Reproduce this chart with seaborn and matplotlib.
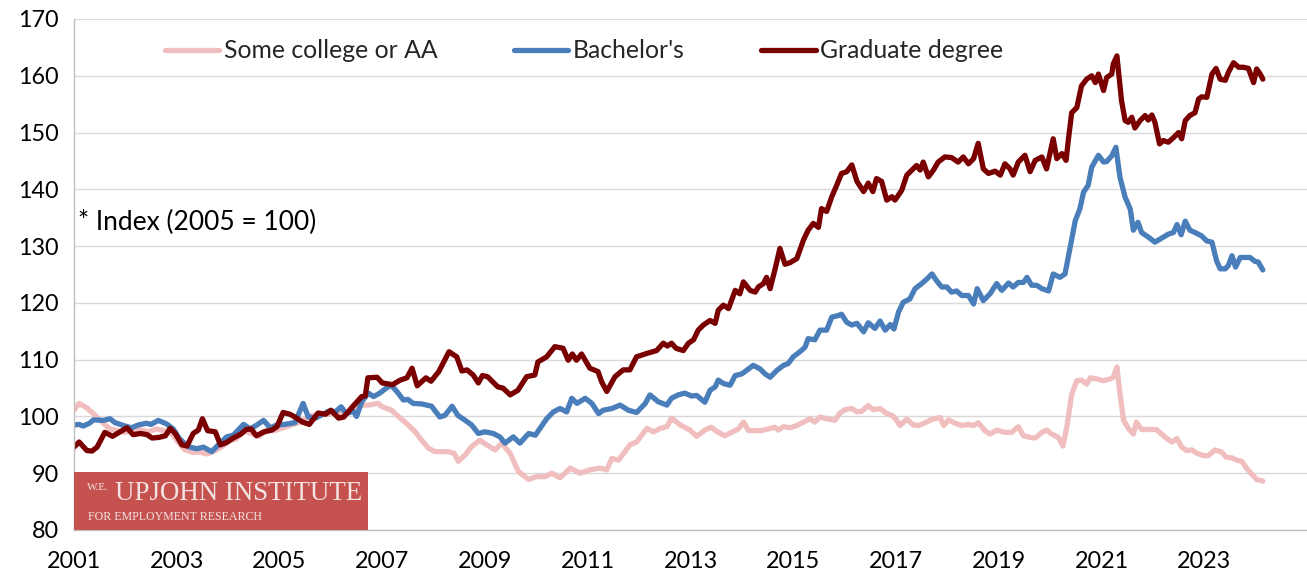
import numpy as np
import pandas as pd
import matplotlib
matplotlib.use("Agg")
import matplotlib.pyplot as plt
import seaborn as sns
from matplotlib.patches import Rectangle

# ---------------- data ----------------
series_names = ["Some college or AA", "Bachelor's", "Graduate degree"]

some_t = [2001.00, 2001.10, 2001.25, 2001.40, 2001.55, 2001.70, 2001.85, 2002.00, 2002.15, 2002.30,
          2002.45, 2002.60, 2002.75, 2002.90, 2003.00, 2003.15, 2003.30, 2003.45, 2003.60, 2003.75,
          2003.90, 2004.00, 2004.15, 2004.30, 2004.45, 2004.60, 2004.75, 2004.90, 2005.00, 2005.20,
          2005.40, 2005.60, 2005.80, 2006.00, 2006.20, 2006.40, 2006.50, 2006.73, 2006.92, 2007.00,
          2007.18, 2007.35, 2007.47, 2007.64, 2007.77, 2007.90, 2008.03, 2008.29, 2008.40, 2008.48,
          2008.61, 2008.74, 2008.90, 2009.03, 2009.20, 2009.32, 2009.49, 2009.65, 2009.85, 2010.00,
          2010.17, 2010.30, 2010.46, 2010.66, 2010.85, 2011.04, 2011.24, 2011.37, 2011.47, 2011.60,
          2011.82, 2011.95, 2012.15, 2012.28, 2012.41, 2012.54, 2012.63, 2012.80, 2012.99, 2013.12,
          2013.28, 2013.40, 2013.54, 2013.67, 2013.80, 2013.93, 2014.03, 2014.13, 2014.26, 2014.38,
          2014.52, 2014.64, 2014.71, 2014.81, 2014.94, 2015.07, 2015.20, 2015.33, 2015.42, 2015.52,
          2015.65, 2015.81, 2015.91, 2016.01, 2016.14, 2016.24, 2016.33, 2016.46, 2016.56, 2016.69,
          2016.82, 2016.92, 2017.00, 2017.08, 2017.21, 2017.34, 2017.44, 2017.57, 2017.70, 2017.86,
          2017.93, 2018.02, 2018.15, 2018.28, 2018.41, 2018.51, 2018.60, 2018.73, 2018.83, 2018.96,
          2019.12, 2019.25, 2019.38, 2019.48, 2019.61, 2019.71, 2019.84, 2019.93, 2020.03, 2020.16,
          2020.25, 2020.33, 2020.42, 2020.52, 2020.61, 2020.71, 2020.78, 2020.91, 2021.04, 2021.17,
          2021.23, 2021.30, 2021.36, 2021.43, 2021.53, 2021.62, 2021.68, 2021.78, 2021.91, 2022.07,
          2022.17, 2022.27, 2022.37, 2022.47, 2022.56, 2022.66, 2022.76, 2022.86, 2022.99, 2023.08,
          2023.21, 2023.34, 2023.43, 2023.54, 2023.63, 2023.73, 2023.83, 2023.92, 2024.02, 2024.14]
some_v = [101.1, 102.3, 101.5, 100.3, 99.0, 97.8, 97.5, 97.2, 97.8, 97.6,
          97.3, 97.8, 97.5, 97.0, 95.8, 94.2, 93.7, 93.7, 93.4, 94.0,
          94.8, 95.7, 96.0, 97.5, 97.0, 96.5, 97.5, 97.5, 97.8, 98.4,
          99.0, 100.1, 100.3, 100.5, 100.6, 100.9, 102.0, 102.0, 102.3, 101.7,
          101.1, 99.7, 98.8, 97.3, 95.8, 94.4, 93.8, 93.8, 93.5, 92.1,
          93.2, 94.7, 95.8, 95.0, 94.1, 95.3, 93.5, 90.3, 88.9, 89.4,
          89.4, 90.0, 89.2, 90.9, 90.0, 90.6, 90.9, 90.6, 92.6, 92.3,
          95.0, 95.5, 97.9, 97.3, 97.9, 98.2, 99.7, 98.5, 97.6, 96.5,
          97.6, 98.1, 97.2, 96.6, 97.2, 97.8, 99.0, 97.5, 97.5, 97.5,
          97.8, 98.1, 97.6, 98.2, 98.0, 98.4, 99.0, 99.6, 99.0, 99.9,
          99.6, 99.3, 100.6, 101.2, 101.4, 100.8, 100.9, 101.9, 101.2, 101.4,
          100.5, 100.2, 99.5, 98.4, 99.5, 98.5, 98.4, 98.9, 99.5, 99.8,
          98.4, 99.4, 98.8, 98.4, 98.6, 98.4, 98.9, 97.5, 96.9, 97.6,
          97.2, 97.2, 98.2, 96.6, 96.3, 96.2, 97.2, 97.6, 96.9, 96.3,
          94.8, 98.4, 103.9, 106.3, 106.4, 105.7, 106.8, 106.6, 106.3, 106.6,
          106.9, 108.7, 104.0, 99.3, 97.8, 96.9, 99.0, 97.7, 97.7, 97.7,
          96.9, 96.1, 95.5, 96.1, 94.6, 94.0, 94.1, 93.5, 93.1, 93.1,
          94.1, 93.7, 92.8, 92.7, 92.3, 92.1, 90.8, 89.9, 88.9, 88.6]

bach_t = [2001.00, 2001.10, 2001.18, 2001.30, 2001.38, 2001.57, 2001.70, 2001.80, 2002.00, 2002.12,
          2002.25, 2002.41, 2002.50, 2002.64, 2002.80, 2002.93, 2003.05, 2003.22, 2003.39, 2003.52,
          2003.68, 2003.81, 2003.97, 2004.10, 2004.30, 2004.43, 2004.56, 2004.69, 2004.82, 2004.95,
          2005.10, 2005.30, 2005.46, 2005.56, 2005.70, 2005.95, 2006.10, 2006.20, 2006.30, 2006.44,
          2006.50, 2006.60, 2006.73, 2006.83, 2006.95, 2007.08, 2007.18, 2007.31, 2007.41, 2007.50,
          2007.60, 2007.77, 2007.96, 2008.12, 2008.22, 2008.36, 2008.47, 2008.60, 2008.74, 2008.87,
          2009.00, 2009.16, 2009.29, 2009.39, 2009.55, 2009.68, 2009.85, 2009.98, 2010.07, 2010.20,
          2010.33, 2010.46, 2010.59, 2010.69, 2010.79, 2010.95, 2011.08, 2011.21, 2011.30, 2011.47,
          2011.63, 2011.79, 2011.95, 2012.12, 2012.21, 2012.37, 2012.54, 2012.63, 2012.76, 2012.89,
          2013.02, 2013.12, 2013.28, 2013.38, 2013.48, 2013.54, 2013.64, 2013.77, 2013.87, 2014.00,
          2014.09, 2014.22, 2014.35, 2014.45, 2014.55, 2014.68, 2014.81, 2014.90, 2015.00, 2015.13,
          2015.23, 2015.29, 2015.42, 2015.52, 2015.65, 2015.75, 2015.85, 2015.94, 2016.04, 2016.14,
          2016.24, 2016.37, 2016.46, 2016.59, 2016.69, 2016.79, 2016.89, 2016.96, 2017.05, 2017.14,
          2017.27, 2017.37, 2017.50, 2017.60, 2017.70, 2017.79, 2017.89, 2017.99, 2018.08, 2018.18,
          2018.28, 2018.41, 2018.51, 2018.58, 2018.70, 2018.83, 2018.96, 2019.06, 2019.19, 2019.28,
          2019.38, 2019.48, 2019.55, 2019.64, 2019.74, 2019.84, 2019.97, 2020.06, 2020.19, 2020.29,
          2020.39, 2020.49, 2020.58, 2020.65, 2020.74, 2020.81, 2020.94, 2021.04, 2021.10, 2021.20,
          2021.28, 2021.36, 2021.46, 2021.56, 2021.62, 2021.71, 2021.78, 2021.91, 2022.04, 2022.17,
          2022.30, 2022.40, 2022.47, 2022.55, 2022.63, 2022.72, 2022.82, 2022.95, 2023.05, 2023.15,
          2023.24, 2023.31, 2023.41, 2023.47, 2023.54, 2023.61, 2023.70, 2023.79, 2023.89, 2023.99,
          2024.05, 2024.14]
bach_v = [98.5, 98.6, 98.3, 98.8, 99.4, 99.3, 99.6, 98.9, 98.3, 98.0,
          98.5, 98.8, 98.6, 99.3, 98.7, 97.8, 96.1, 94.7, 94.3, 94.6,
          93.8, 95.0, 96.4, 96.7, 98.6, 97.8, 98.5, 99.3, 98.0, 98.5,
          98.6, 98.9, 102.3, 99.9, 99.7, 100.9, 100.9, 101.7, 100.5, 100.9,
          100.0, 102.6, 104.1, 103.5, 104.1, 105.0, 105.5, 104.1, 102.9, 103.0,
          102.3, 102.2, 101.8, 99.9, 100.2, 101.8, 100.2, 99.4, 98.5, 97.0,
          97.3, 97.0, 96.4, 95.3, 96.4, 95.3, 97.0, 96.7, 97.9, 99.6,
          100.8, 101.4, 100.8, 103.2, 102.3, 103.2, 102.3, 100.5, 101.1, 101.4,
          102.0, 101.1, 100.7, 102.3, 103.8, 102.6, 102.0, 103.2, 103.8, 104.1,
          103.6, 103.7, 102.5, 104.6, 105.2, 106.4, 105.8, 105.5, 107.2, 107.5,
          108.1, 109.0, 108.4, 107.5, 106.9, 108.1, 109.0, 109.3, 110.5, 111.4,
          112.2, 113.7, 113.5, 115.2, 115.2, 117.5, 117.7, 118.0, 116.6, 116.1,
          116.4, 114.9, 116.5, 115.5, 116.8, 115.2, 116.2, 115.4, 118.4, 120.1,
          120.7, 122.5, 123.4, 124.2, 125.1, 123.9, 122.8, 122.8, 121.9, 122.1,
          121.3, 121.3, 119.8, 122.5, 120.4, 121.6, 123.4, 122.2, 123.5, 122.8,
          123.6, 123.6, 124.5, 123.1, 123.1, 122.5, 122.1, 125.1, 124.5, 125.1,
          129.8, 134.5, 136.6, 139.5, 140.7, 143.9, 146.0, 144.8, 144.9, 145.9,
          147.4, 142.1, 138.6, 136.5, 132.8, 134.2, 132.4, 131.6, 130.7, 131.4,
          132.1, 132.4, 133.8, 132.0, 134.4, 132.8, 132.4, 131.8, 130.9, 130.7,
          127.4, 126.0, 126.0, 126.6, 128.3, 126.3, 128.0, 128.0, 128.0, 127.3,
          127.2, 125.8]

grad_t = [2001.00, 2001.10, 2001.25, 2001.35, 2001.45, 2001.60, 2001.75, 2001.90, 2002.03, 2002.15,
          2002.30, 2002.42, 2002.52, 2002.65, 2002.78, 2002.87, 2002.97, 2003.10, 2003.20, 2003.32,
          2003.42, 2003.50, 2003.60, 2003.75, 2003.85, 2003.97, 2004.10, 2004.25, 2004.35, 2004.45,
          2004.55, 2004.70, 2004.85, 2004.95, 2005.07, 2005.20, 2005.30, 2005.45, 2005.58, 2005.75,
          2005.90, 2006.00, 2006.15, 2006.25, 2006.45, 2006.60, 2006.67, 2006.72, 2006.90, 2007.00,
          2007.20, 2007.35, 2007.48, 2007.58, 2007.68, 2007.85, 2007.95, 2008.10, 2008.30, 2008.45,
          2008.55, 2008.65, 2008.77, 2008.87, 2008.95, 2009.05, 2009.15, 2009.25, 2009.35, 2009.49,
          2009.64, 2009.81, 2009.97, 2010.03, 2010.20, 2010.36, 2010.52, 2010.62, 2010.70, 2010.78,
          2010.88, 2011.04, 2011.20, 2011.27, 2011.37, 2011.53, 2011.69, 2011.82, 2011.95, 2012.15,
          2012.34, 2012.47, 2012.55, 2012.63, 2012.72, 2012.86, 2012.96, 2013.06, 2013.15, 2013.25,
          2013.38, 2013.48, 2013.54, 2013.64, 2013.74, 2013.87, 2013.96, 2014.03, 2014.16, 2014.26,
          2014.32, 2014.42, 2014.48, 2014.55, 2014.65, 2014.74, 2014.84, 2014.94, 2015.07, 2015.20,
          2015.29, 2015.39, 2015.49, 2015.55, 2015.65, 2015.75, 2015.85, 2015.94, 2016.04, 2016.14,
          2016.24, 2016.37, 2016.46, 2016.55, 2016.62, 2016.72, 2016.82, 2016.92, 2016.98, 2017.11,
          2017.21, 2017.31, 2017.40, 2017.47, 2017.53, 2017.63, 2017.73, 2017.82, 2017.95, 2018.08,
          2018.21, 2018.31, 2018.41, 2018.51, 2018.60, 2018.70, 2018.80, 2018.93, 2019.03, 2019.12,
          2019.22, 2019.28, 2019.38, 2019.51, 2019.61, 2019.71, 2019.84, 2019.93, 2020.06, 2020.13,
          2020.23, 2020.31, 2020.36, 2020.42, 2020.52, 2020.61, 2020.71, 2020.81, 2020.88, 2020.94,
          2021.04, 2021.10, 2021.20, 2021.23, 2021.30, 2021.39, 2021.46, 2021.52, 2021.59, 2021.65,
          2021.75, 2021.85, 2021.91, 2021.98, 2022.04, 2022.13, 2022.20, 2022.30, 2022.40, 2022.50,
          2022.56, 2022.63, 2022.72, 2022.82, 2022.89, 2022.95, 2023.05, 2023.15, 2023.23, 2023.31,
          2023.41, 2023.47, 2023.57, 2023.67, 2023.76, 2023.86, 2023.96, 2024.02, 2024.09, 2024.14]
grad_v = [94.6, 95.5, 94.0, 93.9, 94.6, 97.2, 96.5, 97.3, 98.0, 96.8,
          97.0, 96.8, 96.2, 96.3, 96.6, 97.9, 97.0, 95.0, 94.8, 97.0,
          97.6, 99.6, 97.5, 97.3, 95.0, 95.4, 96.2, 96.9, 97.7, 97.8,
          96.6, 97.3, 97.6, 98.2, 100.7, 100.4, 99.9, 99.0, 98.6, 100.6,
          100.4, 101.1, 99.7, 99.9, 102.0, 103.5, 103.6, 106.8, 106.9, 105.9,
          105.6, 106.4, 106.8, 108.5, 105.4, 106.8, 106.2, 107.9, 111.4, 110.5,
          108.0, 108.2, 107.3, 105.9, 107.2, 107.0, 106.1, 105.2, 105.0, 103.8,
          104.6, 107.0, 107.3, 109.6, 110.5, 112.3, 112.0, 109.9, 111.0, 109.9,
          111.0, 108.5, 107.9, 106.1, 104.4, 107.0, 108.2, 108.2, 110.5, 111.1,
          111.6, 112.9, 112.4, 112.9, 112.0, 111.6, 112.9, 113.5, 115.2, 116.1,
          116.9, 116.4, 118.7, 119.6, 119.0, 122.2, 121.6, 123.7, 122.2, 121.9,
          122.8, 123.4, 124.5, 122.5, 126.1, 129.6, 126.8, 127.1, 127.8, 131.1,
          132.8, 134.0, 133.3, 136.6, 136.1, 138.7, 140.8, 142.8, 143.1, 144.3,
          141.4, 139.6, 141.1, 139.6, 141.9, 141.4, 138.1, 138.7, 138.1, 139.8,
          142.5, 143.4, 144.2, 143.4, 144.8, 142.2, 143.4, 144.8, 145.7, 145.6,
          144.8, 145.7, 144.5, 145.4, 148.1, 143.6, 142.8, 143.2, 142.5, 144.5,
          143.6, 142.5, 144.8, 146.0, 143.1, 145.1, 145.7, 143.6, 148.9, 145.4,
          146.3, 145.1, 149.1, 153.5, 154.4, 158.2, 159.4, 160.0, 158.8, 160.3,
          157.4, 159.7, 160.3, 162.1, 163.5, 155.6, 152.1, 151.8, 152.7, 150.8,
          152.1, 153.0, 152.2, 153.1, 151.8, 148.0, 148.6, 148.3, 149.1, 150.0,
          148.9, 152.1, 153.0, 153.5, 155.9, 156.3, 156.2, 160.3, 161.3, 159.4,
          159.2, 160.6, 162.3, 161.5, 161.5, 161.3, 158.8, 161.2, 160.3, 159.4]

y_ticks = [80, 90, 100, 110, 120, 130, 140, 150, 160, 170]
x_label_years = [2001, 2003, 2005, 2007, 2009, 2011, 2013, 2015, 2017, 2019, 2021, 2023]

# ---------------- build long-form table ----------------
df = pd.concat([
    pd.DataFrame({"year": some_t, "value": some_v, "series": series_names[0]}),
    pd.DataFrame({"year": bach_t, "value": bach_v, "series": series_names[1]}),
    pd.DataFrame({"year": grad_t, "value": grad_v, "series": series_names[2]}),
], ignore_index=True)

palette = {series_names[0]: "#F0BEBE",
           series_names[1]: "#4A7EBB",
           series_names[2]: "#7A0000"}

# ---------------- styling ----------------
sns.set_theme(style="white")
plt.rcParams["font.family"] = ["Lato", "DejaVu Sans"]
FS_TICK = 16.8
FS_LEG = 17.8
FS_NOTE = 19
LW = 3.8

fig = plt.figure(figsize=(13.07, 5.78), dpi=100)
ax = fig.add_axes([74 / 1307, 1 - 530 / 578, 1233 / 1307, 511 / 578])

sns.lineplot(data=df, x="year", y="value", hue="series", hue_order=series_names,
             palette=palette, linewidth=LW, estimator=None, ax=ax,
             solid_capstyle="round", solid_joinstyle="round")

ax.set_xlim(2001, 2025)
ax.set_ylim(80, 170)
ax.set_xlabel("")
ax.set_ylabel("")

ax.set_yticks(y_ticks)
ax.set_yticklabels([str(v) for v in y_ticks], fontsize=FS_TICK, color="#000000")
year_ticks = list(range(2001, 2026))
ax.set_xticks(year_ticks)
ax.set_xticklabels([str(y) if y in x_label_years else "" for y in year_ticks],
                   fontsize=FS_TICK, color="#000000")
ax.tick_params(axis="both", direction="out", length=7, width=1, color="#BFBFBF")
ax.tick_params(axis="x", pad=8)
ax.tick_params(axis="y", pad=4)

ax.grid(axis="y", color="#D9D9D9", linewidth=1.0)
ax.set_axisbelow(True)
for s in ["top", "right"]:
    ax.spines[s].set_visible(False)
for s in ["left", "bottom"]:
    ax.spines[s].set_color("#BFBFBF")
    ax.spines[s].set_linewidth(1.0)

# legend
handles, labels = ax.get_legend_handles_labels()
leg = ax.legend(handles, labels, loc="center left",
                bbox_to_anchor=((165 - 74) / 1233, (530 - 51) / 511),
                ncol=3, frameon=False, fontsize=FS_LEG, handlelength=2.2,
                handletextpad=0.18, columnspacing=3.1, borderpad=0, borderaxespad=0)
for line in leg.get_lines():
    line.set_linewidth(LW)
    line.set_solid_capstyle("round")

# annotation
ax.text((78 - 74) / 1233, (530 - 222) / 511, "* Index (2005 = 100)", transform=ax.transAxes,
        fontsize=FS_NOTE, ha="left", va="center", color="#000000")

# institute logo block
logo_w = (368 - 74) / 1233
logo_h = (530 - 472) / 511
ax.add_patch(Rectangle((0, 0), logo_w, logo_h, transform=ax.transAxes,
                       facecolor="#C65250", edgecolor="none", zorder=5, clip_on=False))
serif = ["Liberation Serif", "DejaVu Serif"]
tc = "#F3E4E3"
ax.text((87 - 74) / 1233, (530 - 488) / 511, "W.E.", transform=ax.transAxes, family=serif,
        fontsize=8, color=tc, ha="left", va="center", zorder=6)
ax.text((115 - 74) / 1233, (530 - 494) / 511, "UPJOHN INSTITUTE", transform=ax.transAxes,
        family=serif, fontsize=19.4, color=tc, ha="left", va="center", zorder=6)
ax.text((88 - 74) / 1233, (530 - 517) / 511, "FOR EMPLOYMENT RESEARCH", transform=ax.transAxes,
        family=serif, fontsize=8.6, color=tc, ha="left", va="center", zorder=6)

fig.savefig("out.png", dpi=100)
